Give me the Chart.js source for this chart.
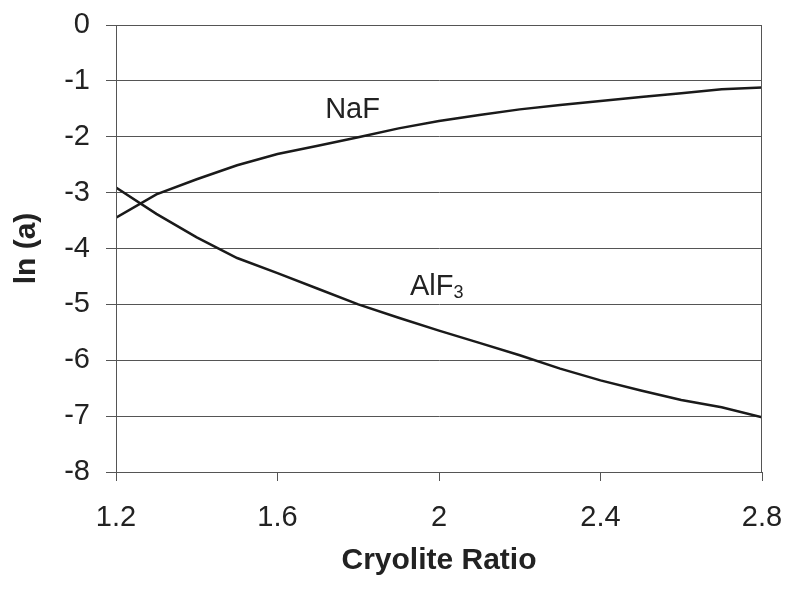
<!DOCTYPE html>
<html>
<head>
<meta charset="utf-8">
<script src="https://cdn.jsdelivr.net/npm/chart.js@4"></script>
<style>
  html, body { margin: 0; padding: 0; background: #fff; }
  #wrap { width: 786px; height: 589px; }
</style>
</head>
<body>
<div id="wrap"><canvas id="c" width="786" height="589"></canvas></div>
<script>
const ratios = [1.2, 1.3, 1.4, 1.5, 1.6, 1.7, 1.8, 1.9, 2.0, 2.1, 2.2, 2.3, 2.4, 2.5, 2.6, 2.7, 2.8];
const lnNaF  = [-3.45, -3.03, -2.76, -2.51, -2.31, -2.16, -2.01, -1.85, -1.72, -1.61, -1.51, -1.43, -1.36, -1.29, -1.22, -1.15, -1.12];
const lnAlF3 = [-2.91, -3.38, -3.80, -4.17, -4.44, -4.72, -5.00, -5.24, -5.47, -5.69, -5.91, -6.15, -6.36, -6.54, -6.71, -6.84, -7.02];
const xTicks = [1.2, 1.6, 2.0, 2.4, 2.8];
const yTicks = [0, -1, -2, -3, -4, -5, -6, -7, -8];
const seriesLabels = [
  { text: 'NaF', sub: '', x: 1.718, y: -1.665 },
  { text: 'AlF', sub: '3', x: 1.928, y: -4.83 }
];

const FONT = '"Liberation Sans", Arial, Helvetica, sans-serif';
const INK = '#222';
const GRID = '#555';

const toPts = (ys) => ratios.map((x, i) => ({ x: x, y: ys[i] }));

const decor = {
  id: 'decor',
  afterDatasetsDraw(chart) {
    const { ctx, chartArea, scales } = chart;
    ctx.save();
    ctx.strokeStyle = GRID;
    ctx.lineWidth = 1;
    ctx.strokeRect(chartArea.left + 0.5, chartArea.top + 0.5,
                   chartArea.right - chartArea.left - 1, chartArea.bottom - chartArea.top);
    ctx.fillStyle = INK;
    ctx.textBaseline = 'alphabetic';
    ctx.textAlign = 'left';
    seriesLabels.forEach(l => {
      const px = scales.x.getPixelForValue(l.x);
      const py = scales.y.getPixelForValue(l.y);
      ctx.font = '29px ' + FONT;
      ctx.fillText(l.text, px, py);
      if (l.sub) {
        const w = ctx.measureText(l.text).width;
        ctx.font = '18px ' + FONT;
        ctx.fillText(l.sub, px + w, py + 3);
      }
    });
    ctx.restore();
  }
};

new Chart(document.getElementById('c'), {
  type: 'scatter',
  data: {
    datasets: [
      { label: 'NaF', data: toPts(lnNaF), showLine: true, borderColor: '#1a1a1a', borderWidth: 2.5, pointRadius: 0, tension: 0, fill: false },
      { label: 'AlF3', data: toPts(lnAlF3), showLine: true, borderColor: '#1a1a1a', borderWidth: 2.5, pointRadius: 0, tension: 0, fill: false }
    ]
  },
  options: {
    responsive: false,
    animation: false,
    devicePixelRatio: 1,
    layout: { padding: { top: 25, right: 24, bottom: 0, left: 0 } },
    plugins: { legend: { display: false }, tooltip: { enabled: false }, title: { display: false } },
    scales: {
      x: {
        type: 'linear',
        min: 1.2, max: 2.8,
        afterBuildTicks: (s) => { s.ticks = xTicks.map(v => ({ value: v })); },
        afterFit: (s) => { s.height = 117; s.paddingLeft = 0; s.paddingRight = 0; },
        ticks: {
          color: INK, padding: 20,
          font: { family: FONT, size: 29 },
          callback: (v) => String(Math.round(v * 10) / 10),
          maxRotation: 0
        },
        grid: { drawOnChartArea: false, drawTicks: true, tickLength: 9, color: GRID, lineWidth: 1 },
        border: { display: true, color: GRID, width: 1 },
        title: {
          display: true, text: 'Cryolite Ratio', color: INK,
          font: { family: FONT, size: 30, weight: 'bold' },
          padding: { top: 0, bottom: 10 }
        }
      },
      y: {
        type: 'linear',
        min: -8, max: 0,
        afterBuildTicks: (s) => { s.ticks = yTicks.map(v => ({ value: v })); },
        afterFit: (s) => { s.width = 116; s.paddingTop = 0; s.paddingBottom = 0; },
        ticks: {
          color: INK, padding: 16,
          font: { family: FONT, size: 29 },
          callback: (v) => String(v)
        },
        grid: { drawOnChartArea: true, drawTicks: true, tickLength: 10, color: GRID, lineWidth: 1 },
        border: { display: true, color: GRID, width: 1 },
        title: {
          display: true, text: 'ln (a)', color: INK,
          font: { family: FONT, size: 30, weight: 'bold' },
          padding: { top: 9, bottom: 0 }
        }
      }
    }
  },
  plugins: [decor]
});
</script>
</body>
</html>
